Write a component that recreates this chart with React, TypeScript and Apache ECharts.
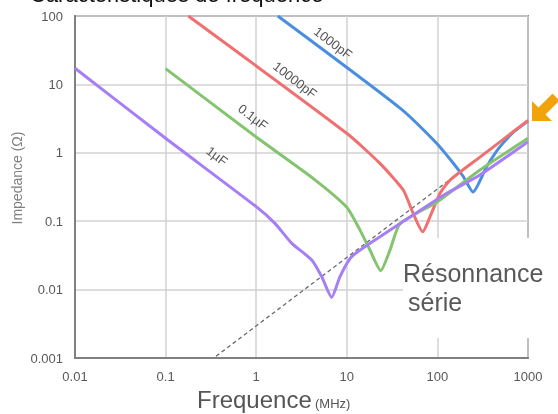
import React, { useEffect, useRef } from "react";
import * as echarts from "echarts";

// Frequency in MHz, impedance in ohms
const xTickLabels = ["0.01", "0.1", "1", "10", "100", "1000"];
const yTickLabels = ["0.001", "0.01", "0.1", "1", "10", "100"];

const cap1000pF: [number, number][] = [
  [1.73, 100], [38.7, 4.5], [98, 1.38], [149, 0.71], [193, 0.45], [247, 0.267],
  [350, 0.63], [491, 1.23], [700, 2.03], [1000, 2.92],
];
const cap10000pF: [number, number][] = [
  [0.178, 100], [9.98, 1.93], [23.2, 0.7], [42, 0.286],
  [54, 0.13], [68.8, 0.07], [82.8, 0.116], [107, 0.256], [138, 0.4], [300, 0.88], [1000, 2.97],
];
const cap01uF: [number, number][] = [
  [0.1, 17], [1, 1.7], [4.27, 0.42], [9.98, 0.16], [14, 0.074],
  [18, 0.038], [23.7, 0.019], [30, 0.038], [38.7, 0.092], [98, 0.19], [295, 0.56], [1000, 1.63],
];
const cap1uF: [number, number][] = [
  [0.01, 17.2], [0.1, 1.63], [1, 0.163], [1.61, 0.093], [2.47, 0.0475], [4.1, 0.0271],
  [5.28, 0.0155], [6.81, 0.0077], [8.41, 0.0155], [11.3, 0.0303], [23.2, 0.059],
  [54, 0.123], [127, 0.256], [295, 0.473], [1000, 1.45],
];
const eslLine: [number, number][] = [[0.36, 0.00106], [1000, 2.95]];

const seriesNames = ["1000pF", "10000pF", "0.1µF", "1µF"];
const seriesColors = ["#4a8fdf", "#f07070", "#84c46e", "#a67ff6"];

export default function App() {
  const ref = useRef<HTMLDivElement>(null);
  useEffect(() => {
    if (!ref.current) return;
    const chart = echarts.init(ref.current, null, { renderer: "svg" });
    const font = "Liberation Sans, Arial, sans-serif";
    const datasets = [cap1000pF, cap10000pF, cap01uF, cap1uF];
    const lineSeries = datasets.map((d, i) => ({
      name: seriesNames[i],
      type: "line",
      data: d,
      showSymbol: false,
      smooth: 0.2,
      lineStyle: { color: seriesColors[i], width: 3 },
      itemStyle: { color: seriesColors[i] },
      z: 3,
    }));
    const labelStyle = { fill: "#555", font: `13px ${font}`, align: "center", verticalAlign: "middle" };
    chart.setOption({
      animation: false,
      grid: { left: 75, right: 30, top: 16, bottom: 56, show: true, borderColor: "#8a8a8a", borderWidth: 2 },
      xAxis: {
        type: "log",
        logBase: 10,
        min: 0.01,
        max: 1000,
        axisLine: { show: true, lineStyle: { color: "#808080", width: 2 } },
        axisTick: { show: false },
        axisLabel: {
          color: "#595959",
          fontSize: 13,
          fontFamily: font,
          margin: 12,
          formatter: (v: number) => xTickLabels[Math.round(Math.log10(v)) + 2] ?? "",
        },
        splitLine: { show: true, lineStyle: { color: "#d2d2d2", width: 1.5 } },
      },
      yAxis: {
        type: "log",
        logBase: 10,
        min: 0.001,
        max: 100,
        axisLine: { show: true, lineStyle: { color: "#808080", width: 2 } },
        axisTick: { show: false },
        axisLabel: {
          color: "#595959",
          fontSize: 13,
          fontFamily: font,
          margin: 12,
          formatter: (v: number) => yTickLabels[Math.round(Math.log10(v)) + 3] ?? "",
        },
        splitLine: { show: true, lineStyle: { color: "#d2d2d2", width: 1.5 } },
      },
      series: [
        ...lineSeries,
        {
          name: "ESL",
          type: "line",
          data: eslLine,
          showSymbol: false,
          lineStyle: { color: "#6a6a6a", width: 1.3, type: [4, 3] },
          z: 2,
        },
      ],
      graphic: [
        { type: "text", x: 30, y: 5, z: 50, style: { text: "Caractéristiques de fréquence", fill: "#111", font: `22px ${font}`, verticalAlign: "bottom" } },
        { type: "text", x: 333, y: 43, rotation: -0.65, z: 50, style: { ...labelStyle, text: seriesNames[0] } },
        { type: "text", x: 295, y: 80, rotation: -0.65, z: 50, style: { ...labelStyle, text: seriesNames[1] } },
        { type: "text", x: 253, y: 117, rotation: -0.65, z: 50, style: { ...labelStyle, text: seriesNames[2] } },
        { type: "text", x: 217, y: 156, rotation: -0.65, z: 50, style: { ...labelStyle, text: seriesNames[3] } },
        { type: "text", x: 17, y: 178, rotation: Math.PI / 2, z: 50, style: { text: "Impedance (Ω)", fill: "#808080", font: `14px ${font}`, align: "center", verticalAlign: "middle" } },
        { type: "text", x: 197, y: 411, z: 50, style: { text: "Frequence", fill: "#555", font: `24px ${font}`, verticalAlign: "bottom" } },
        { type: "text", x: 315, y: 410, z: 50, style: { text: "(MHz)", fill: "#555", font: `13px ${font}`, verticalAlign: "bottom" } },
        { type: "rect", z: 100, shape: { x: 403, y: 238, width: 150, height: 100 }, style: { fill: "#ffffff" } },
        { type: "text", x: 403, y: 273, z: 101, style: { text: "Résonnance", fill: "#595959", font: `25px ${font}`, verticalAlign: "middle" } },
        { type: "text", x: 408, y: 302, z: 101, style: { text: "série", fill: "#595959", font: `25px ${font}`, verticalAlign: "middle" } },
        {
          type: "polygon",
          z: 101,
          shape: { points: [[532, 121], [532, 101], [538.5, 107.5], [552.5, 93.5], [559.5, 100.5], [545.5, 114.5], [552, 121]] },
          style: { fill: "#f0a30a" },
        },
      ],
    });
    return () => chart.dispose();
  }, []);
  return <div ref={ref} style={{ position: "fixed", left: 0, top: 0, width: 558, height: 414 }} />;
}
